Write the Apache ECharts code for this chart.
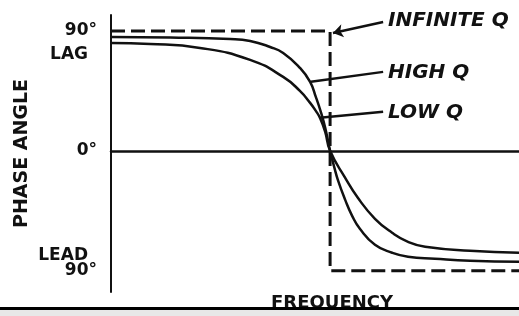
<!DOCTYPE html>
<html lang="en">
    <head>
        <meta charset="UTF-8">
        <title>Phase angle vs frequency</title>
        <script src="https://cdn.jsdelivr.net/npm/echarts@6/dist/echarts.min.js"></script>
    </head>
    <body style="margin:0;background:#fff;">
        <div id="main" style="width: 519px;height:316px;"></div>
        <script type="text/javascript">
            // values (frequency in arbitrary units 0..100, phase in degrees)
            var highQFreq  = [0, 14.5, 29.2, 34.1, 39.0, 42.2, 46.3, 48.8, 50.2, 51.5, 52.5, 53.7, 54.7, 55.6, 57.4, 59.1, 61.0, 64.7, 68.9, 72.8, 79.4, 88.0, 100];
            var highQPhase = [85.5, 85.1, 84.0, 82.5, 78.0, 73.5, 62.3, 51.8, 40.5, 28.5, 17.3, 0, -12.0, -21.8, -36.8, -48.8, -58.5, -70.5, -76.5, -79.5, -81.0, -82.5, -83.3];
            var lowQFreq   = [0, 9.6, 21.8, 34.1, 42.2, 46.3, 48.8, 50.2, 51.2, 52.5, 53.7, 57.4, 60.5, 64.7, 68.9, 72.8, 77.0, 88.0, 100];
            var lowQPhase  = [81.0, 80.3, 77.3, 68.3, 55.5, 45.0, 36.0, 30.0, 24.8, 14.3, 0, -20.3, -35.3, -51.0, -61.5, -68.3, -72.0, -75.0, -76.5];
            var infFreq    = [0, 53.7, 53.7, 100];
            var infPhase   = [90, 90, -90, -90];
            var yTicks     = [-90, 0, 90];

            function pairs(xs, ys) {
                return xs.map(function (x, i) { return [x, ys[i]]; });
            }

            var ink = '#111';
            var font = 'bold 17px "DejaVu Sans"';
            var tagFont = 'italic bold 20px "DejaVu Sans"';

            function leader(a, b, arrow) {
                return {
                    silent: true,
                    symbol: arrow ? ['none', 'arrow'] : ['none', 'none'],
                    symbolSize: 10,
                    label: {show: false},
                    lineStyle: {color: ink, width: 2.5, type: 'solid'},
                    data: [[{coord: a}, {coord: b}]]
                };
            }

            var myChart = echarts.init(document.getElementById('main'));
            var option = {
                animation: false,
                backgroundColor: '#fff',
                grid: {left: 111, right: 0, top: 15, bottom: 24, outerBoundsMode: 'none'},
                xAxis: {
                    type: 'value',
                    min: 0,
                    max: 100,
                    axisLine: {show: true, onZero: true, lineStyle: {color: ink, width: 2.5}},
                    axisTick: {show: false},
                    axisLabel: {show: false},
                    splitLine: {show: false}
                },
                yAxis: {
                    type: 'value',
                    min: -106,
                    max: 102,
                    name: 'PHASE ANGLE',
                    nameLocation: 'middle',
                    nameRotate: 90,
                    nameGap: 79,
                    nameTextStyle: {color: ink, fontFamily: 'DejaVu Sans', fontWeight: 'bold', fontSize: 19},
                    axisLine: {show: true, lineStyle: {color: ink, width: 2}},
                    axisTick: {show: false},
                    splitLine: {show: false},
                    axisLabel: {
                        customValues: yTicks,
                        margin: 14,
                        color: ink,
                        fontFamily: 'DejaVu Sans',
                        fontWeight: 'bold',
                        fontSize: 17,
                        formatter: function (v) { return Math.abs(v) + '°'; }
                    }
                },
                series: [
                    {
                        name: 'INFINITE Q',
                        type: 'line',
                        data: pairs(infFreq, infPhase),
                        symbol: 'none',
                        lineStyle: {color: ink, width: 3, type: [14, 6]},
                        markLine: leader([66.7, 96.8], [54.4, 88.5], true)
                    },
                    {
                        name: 'HIGH Q',
                        type: 'line',
                        data: pairs(highQFreq, highQPhase),
                        symbol: 'none',
                        smooth: 0.5,
                        lineStyle: {color: ink, width: 2.5},
                        markLine: leader([66.7, 59.3], [49.0, 51.8], false)
                    },
                    {
                        name: 'LOW Q',
                        type: 'line',
                        data: pairs(lowQFreq, lowQPhase),
                        symbol: 'none',
                        smooth: 0.5,
                        lineStyle: {color: ink, width: 2.5},
                        markLine: leader([66.7, 29.3], [51.2, 24.8], false)
                    }
                ],
                graphic: [
                    {type: 'text', x: 88, y: 55, style: {text: 'LAG', font: font, fill: ink, textAlign: 'right', textVerticalAlign: 'middle'}},
                    {type: 'text', x: 88, y: 256, style: {text: 'LEAD', font: font, fill: ink, textAlign: 'right', textVerticalAlign: 'middle'}},
                    {type: 'text', x: 388, y: 21, style: {text: 'INFINITE Q', font: tagFont, fill: ink, textAlign: 'left', textVerticalAlign: 'middle'}},
                    {type: 'text', x: 388, y: 73, style: {text: 'HIGH Q', font: tagFont, fill: ink, textAlign: 'left', textVerticalAlign: 'middle'}},
                    {type: 'text', x: 388, y: 113, style: {text: 'LOW Q', font: tagFont, fill: ink, textAlign: 'left', textVerticalAlign: 'middle'}},
                    {type: 'text', x: 332, y: 294, style: {text: 'FREQUENCY', font: 'bold 18px "DejaVu Sans"', fill: ink, textAlign: 'center', textVerticalAlign: 'top'}},
                    // scan border at the bottom edge
                    {type: 'rect', z: 100, shape: {x: 0, y: 307, width: 519, height: 3}, style: {fill: '#000'}},
                    {type: 'rect', z: 100, shape: {x: 0, y: 310, width: 519, height: 6}, style: {fill: '#e8e8e8'}}
                ]
            };
            myChart.setOption(option);
        </script>
    </body>
</html>
